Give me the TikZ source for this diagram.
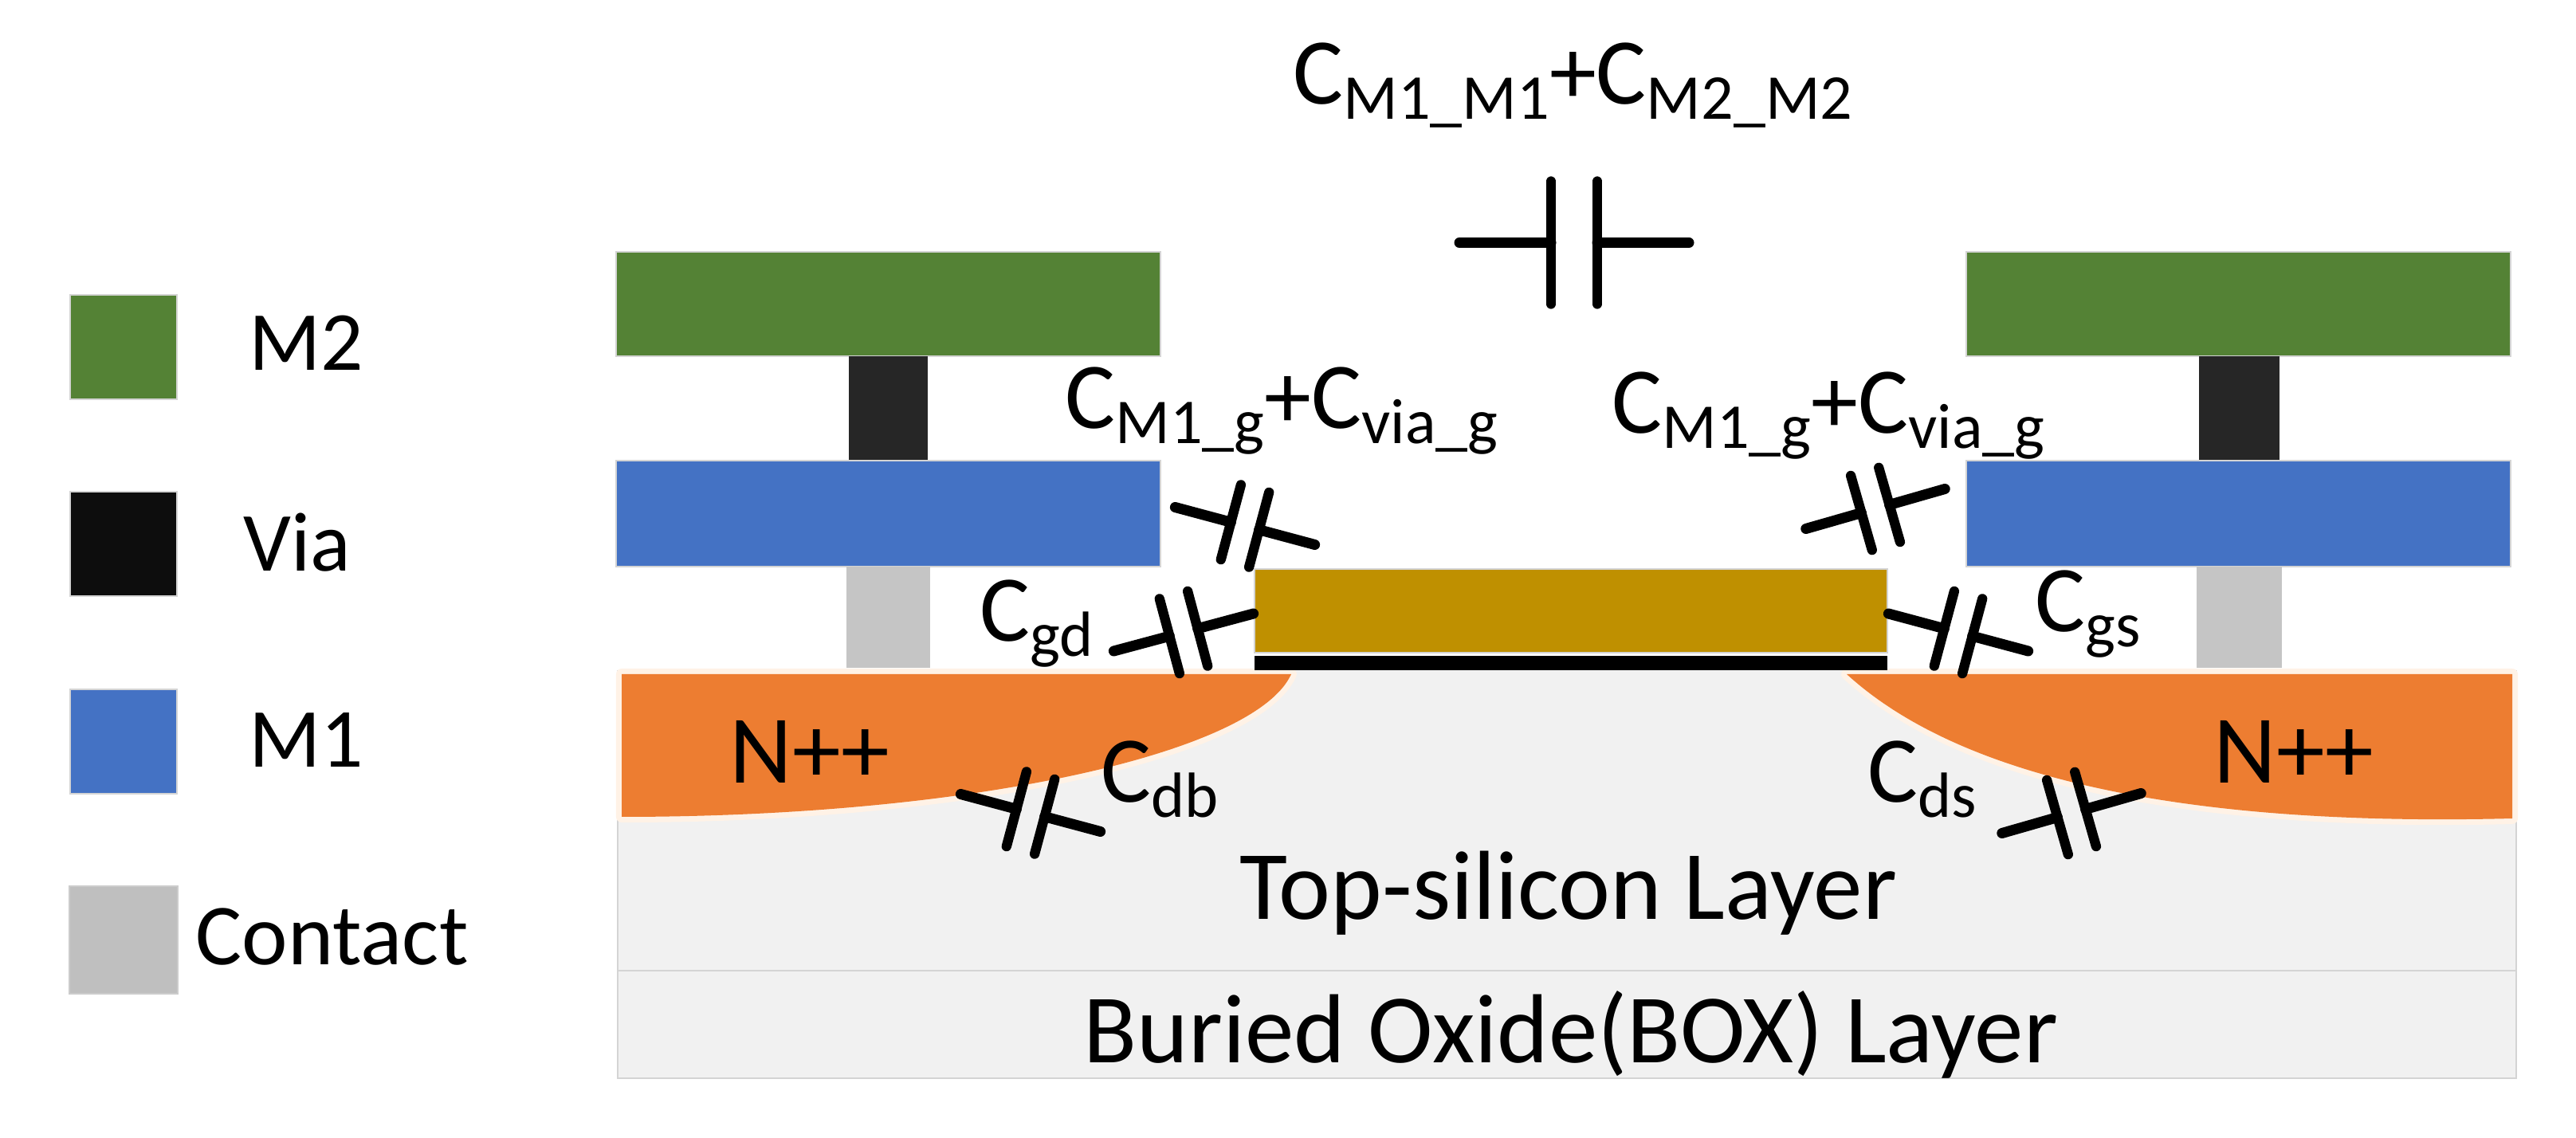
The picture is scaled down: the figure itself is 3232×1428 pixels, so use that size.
\documentclass[tikz,border=0pt]{standalone}
\usepackage{fontspec}
\setmainfont{Carlito}
\definecolor{metaltwo}{HTML}{548235}
\definecolor{metalone}{HTML}{4472C4}
\definecolor{viadark}{HTML}{262626}
\definecolor{contactgray}{HTML}{C5C5C5}
\definecolor{gatecolor}{HTML}{BF9000}
\definecolor{dopedcolor}{HTML}{ED7D31}
\definecolor{dopededge}{HTML}{FFF2E6}
\definecolor{siliconcolor}{HTML}{F1F1F1}
\definecolor{edgegray}{HTML}{D4D4D4}
\newcommand{\csub}[1]{\raisebox{-5.4pt}{\fontsize{22.8}{24}\selectfont #1}}
\tikzset{
  capacitor/.pic={
    \coordinate (-a) at (-144,0);
    \coordinate (-b) at (-29,0);
    \coordinate (-c) at (29,0);
    \coordinate (-d) at (144,0);
    \draw[line width=3.7pt,line cap=round] (-a) -- (-b);
    \draw[line width=3.7pt,line cap=round] (-c) -- (-d);
    \draw[line width=3.5pt,line cap=round] (-29,-77) -- (-29,77);
    \draw[line width=3.5pt,line cap=round] (29,-77) -- (29,77);
  }
}
\begin{document}
\begin{tikzpicture}[x=0.01cm,y=-0.01cm,
  every node/.append style={inner sep=0pt,text=black},
  layer/.style={draw=edgegray,line width=0.8pt},
  doped/.style={draw=dopededge,line width=4pt,line join=round,postaction={fill=dopedcolor}},
  caplabel/.style={anchor=base west,font=\fontsize{33.6}{40}\selectfont},
  legendtext/.style={anchor=base west,font=\fontsize{30}{36}\selectfont},
  layertext/.style={anchor=base,font=\fontsize{35}{42}\selectfont}]
  \useasboundingbox (0,0) rectangle (3232,1428);
  % substrate
  \fill[siliconcolor] (775,841) rectangle (3157,1353);
  \draw[layer] (775,841) -- (775,1353) -- (3157,1353) -- (3157,841);
  \draw[layer] (775,1218) -- (3157,1218);
  \path[doped] (780,846) -- (1620,846)
    .. controls (1575,945) and (1220,1025) .. (780,1025) -- cycle;
  \path[doped] (3152,846) -- (2317,846)
    .. controls (2420,940) and (2640,1040) .. (3152,1027) -- cycle;
  % left stack
  \draw[layer,fill=metaltwo] (773,316) rectangle (1456,447);
  \fill[viadark] (1065,447) rectangle (1164,577);
  \draw[layer,fill=metalone] (773,578) rectangle (1456,711);
  \fill[contactgray] (1062,711) rectangle (1167,838);
  % right stack
  \draw[layer,fill=metaltwo] (2467,316) rectangle (3150,447);
  \fill[viadark] (2759,447) rectangle (2860,577);
  \draw[layer,fill=metalone] (2467,578) rectangle (3150,711);
  \fill[contactgray] (2756,711) rectangle (2863,838);
  % gate
  \draw[draw=edgegray,line width=0.6pt,fill=gatecolor] (1574,714) rectangle (2368,819);
  \fill[black] (1574,823) rectangle (2368,841);
  % legend
  \draw[layer,fill=metaltwo] (88,370) rectangle (222,501);
  \draw[layer,fill=black!95] (88,617) rectangle (222,748);
  \draw[layer,fill=metalone] (88,865) rectangle (222,996);
  \draw[draw=black!20,line width=0.6pt,fill=black!25] (87,1112) rectangle (223,1247);
  \node (leg_m2) [legendtext] at (312,465) {M2};
  \node (leg_via) [legendtext] at (305,717) {Via};
  \node (leg_m1) [legendtext] at (312,962) {M1};
  \node (leg_contact) [legendtext,font=\fontsize{31}{36}\selectfont] at (245,1210) {Contact};
  % layer names
  \node (nplus_l) [anchor=base west,font=\fontsize{34.6}{42}\selectfont] at (915,983) {N++};
  \node (nplus_r) [anchor=base west,font=\fontsize{34.6}{42}\selectfont] at (2777,983) {N++};
  \node (top_si) [layertext] at (1968,1153) {Top-silicon Layer};
  \node (box_ox) [layertext] at (1971,1333) {Buried Oxide(BOX) Layer};
  % capacitors
  \pic (cap_mm) at (1975,304.5) {capacitor};
  \pic (cap_ml) [rotate=-15,scale=.63] at (1562,660) {capacitor};
  \pic (cap_mr) [rotate=16,scale=.63] at (2353,638.5) {capacitor};
  \pic (cap_gd) [rotate=15,scale=.63] at (1485,793.5) {capacitor};
  \pic (cap_gs) [rotate=-15,scale=.63] at (2457,793.5) {capacitor};
  \pic (cap_db) [rotate=-15,scale=.63] at (1293,1020) {capacitor};
  \pic (cap_ds) [rotate=16,scale=.63] at (2599,1020.5) {capacitor};
  \node (lab_mm) [caplabel] at (1622,131) {C\csub{M1\_M1}+C\csub{M2\_M2}};
  \node (lab_ml) [caplabel] at (1336,538) {C\csub{M1\_g}+C\csub{via\_g}};
  \node (lab_mr) [caplabel] at (2022,544) {C\csub{M1\_g}+C\csub{via\_g}};
  \node (lab_gd) [caplabel] at (1229,805) {C\csub{gd}};
  \node (lab_gs) [caplabel] at (2553,793) {C\csub{gs}};
  \node (lab_db) [caplabel] at (1381,1007) {C\csub{db}};
  \node (lab_ds) [caplabel] at (2343,1007) {C\csub{ds}};
\end{tikzpicture}
\end{document}
